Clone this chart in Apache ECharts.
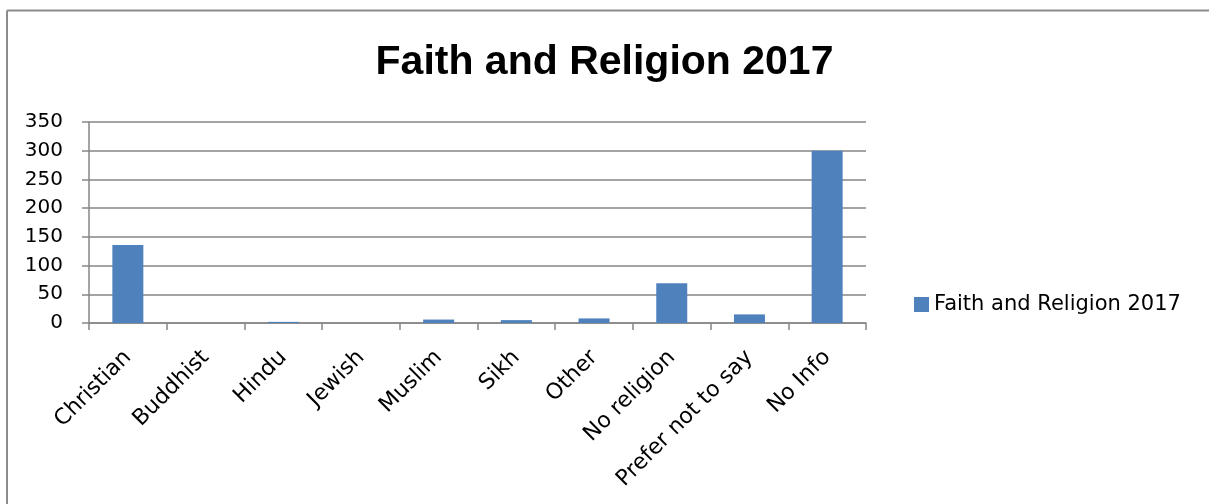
<!DOCTYPE html>
<html>
<head>
<meta charset="utf-8">
<script src="https://cdn.jsdelivr.net/npm/echarts@6/dist/echarts.min.js"></script>
<style>
  html, body { margin: 0; padding: 0; background: #fff; }
  #chart { width: 1209px; height: 504px; }
</style>
</head>
<body>
<div id="chart"></div>
<script>
// Faith and Religion 2017 — counts per category
const categories = ['Christian', 'Buddhist', 'Hindu', 'Jewish', 'Muslim', 'Sikh', 'Other', 'No religion', 'Prefer not to say', 'No Info'];
const counts = [136, 0, 2, 0, 6, 5, 8, 69, 15, 300];
const seriesName = 'Faith and Religion 2017';
const titleText = 'Faith and Religion 2017';
const yTicks = { min: 0, max: 350, interval: 50 };

const TITLE_FONT = '"Liberation Sans", Arial, sans-serif';
const FONT = '"DejaVu Sans", sans-serif';
const chart = echarts.init(document.getElementById('chart'), null, { renderer: 'canvas' });

chart.setOption({
  animation: false,
  backgroundColor: '#ffffff',
  title: {
    text: titleText,
    left: 'center',
    top: 37,
    textStyle: { fontFamily: TITLE_FONT, fontSize: 41, fontWeight: 'bold', color: '#000' }
  },
  legend: {
    data: [seriesName],
    left: 909,
    top: 289,
    itemWidth: 15,
    itemHeight: 15,
    itemGap: 8,
    icon: 'rect',
    textStyle: { fontFamily: FONT, fontSize: 21, color: '#000' }
  },
  grid: { left: 89, right: 343, top: 122, bottom: 181, containLabel: false },
  xAxis: {
    type: 'category',
    data: categories,
    axisLine: { lineStyle: { color: '#868686', width: 1.5 } },
    axisTick: { show: true, alignWithLabel: false, length: 7, lineStyle: { color: '#868686', width: 1.5 } },
    axisLabel: {
      rotate: 45,
      interval: 0,
      margin: 31,
      fontFamily: FONT,
      fontSize: 22,
      color: '#000'
    }
  },
  yAxis: {
    type: 'value',
    min: yTicks.min,
    max: yTicks.max,
    interval: yTicks.interval,
    axisLine: { show: true, lineStyle: { color: '#868686', width: 1.5 } },
    axisTick: { show: true, length: 7, lineStyle: { color: '#868686', width: 1.5 } },
    splitLine: { show: true, lineStyle: { color: '#868686', width: 1.5 } },
    axisLabel: { fontFamily: FONT, fontSize: 20, color: '#000', margin: 26 }
  },
  series: [{
    name: seriesName,
    type: 'bar',
    data: counts,
    barWidth: 31,
    itemStyle: { color: '#4F81BD' }
  }],
  graphic: [
    // chart frame edges along the left and top
    { type: 'line', shape: { x1: 7, y1: 10.5, x2: 1209, y2: 10.5 }, style: { stroke: '#8c8c8c', lineWidth: 2 } },
    { type: 'line', shape: { x1: 7, y1: 10.5, x2: 7, y2: 504 }, style: { stroke: '#8c8c8c', lineWidth: 2 } }
  ]
});
</script>
</body>
</html>
